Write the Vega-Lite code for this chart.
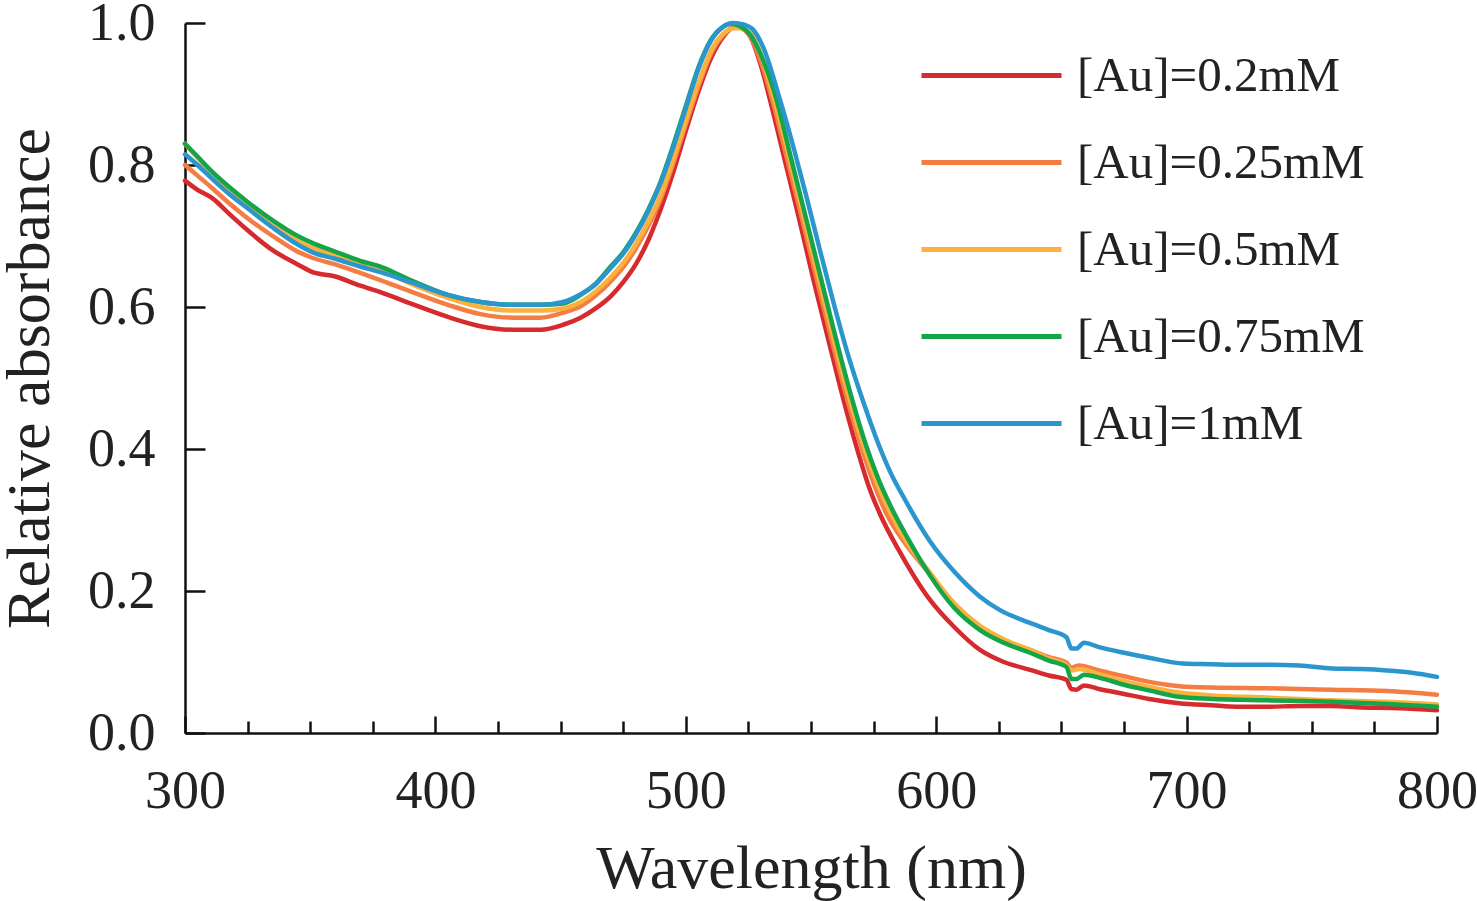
{
 "$schema": "https://vega.github.io/schema/vega-lite/v6.json",
 "width": 1252,
 "height": 710,
 "autosize": {"type": "none"},
 "padding": {"left": 185, "top": 23, "right": 40, "bottom": 168},
 "config": {
  "view": {"stroke": null},
  "font": "Liberation Serif",
  "axis": {"grid": false, "domainColor": "#111", "domainWidth": 2.5, "tickColor": "#111", "tickWidth": 2.5, "labelColor": "#222", "titleColor": "#222", "labelFont": "Liberation Serif", "titleFont": "Liberation Serif", "titleFontWeight": "normal"}
 },
 "datasets": {
  "spectra": [
   {"s":"[Au]=0.2mM","w":300,"a":0.778},{"s":"[Au]=0.2mM","w":305,"a":0.765},{"s":"[Au]=0.2mM","w":311,"a":0.753},{"s":"[Au]=0.2mM","w":318,"a":0.73},{"s":"[Au]=0.2mM","w":325,"a":0.708},{"s":"[Au]=0.2mM","w":335,"a":0.68},{"s":"[Au]=0.2mM","w":345,"a":0.66},{"s":"[Au]=0.2mM","w":351,"a":0.649},{"s":"[Au]=0.2mM","w":360,"a":0.643},{"s":"[Au]=0.2mM","w":370,"a":0.63},{"s":"[Au]=0.2mM","w":378,"a":0.621},{"s":"[Au]=0.2mM","w":390,"a":0.605},{"s":"[Au]=0.2mM","w":405,"a":0.586},{"s":"[Au]=0.2mM","w":418,"a":0.573},{"s":"[Au]=0.2mM","w":431,"a":0.568},{"s":"[Au]=0.2mM","w":442,"a":0.568},{"s":"[Au]=0.2mM","w":451,"a":0.575},{"s":"[Au]=0.2mM","w":458,"a":0.585},{"s":"[Au]=0.2mM","w":464,"a":0.598},{"s":"[Au]=0.2mM","w":470,"a":0.615},{"s":"[Au]=0.2mM","w":475,"a":0.635},{"s":"[Au]=0.2mM","w":480,"a":0.66},{"s":"[Au]=0.2mM","w":485,"a":0.694},{"s":"[Au]=0.2mM","w":490,"a":0.738},{"s":"[Au]=0.2mM","w":495,"a":0.79},{"s":"[Au]=0.2mM","w":500,"a":0.848},{"s":"[Au]=0.2mM","w":505,"a":0.903},{"s":"[Au]=0.2mM","w":510,"a":0.95},{"s":"[Au]=0.2mM","w":515,"a":0.981},{"s":"[Au]=0.2mM","w":520,"a":0.995},{"s":"[Au]=0.2mM","w":525,"a":0.985},{"s":"[Au]=0.2mM","w":530,"a":0.94},{"s":"[Au]=0.2mM","w":533.6,"a":0.892},{"s":"[Au]=0.2mM","w":540,"a":0.8},{"s":"[Au]=0.2mM","w":545,"a":0.728},{"s":"[Au]=0.2mM","w":551,"a":0.638},{"s":"[Au]=0.2mM","w":557,"a":0.553},{"s":"[Au]=0.2mM","w":563,"a":0.469},{"s":"[Au]=0.2mM","w":568,"a":0.405},{"s":"[Au]=0.2mM","w":573,"a":0.348},{"s":"[Au]=0.2mM","w":578,"a":0.305},{"s":"[Au]=0.2mM","w":585,"a":0.258},{"s":"[Au]=0.2mM","w":597,"a":0.19},{"s":"[Au]=0.2mM","w":607,"a":0.15},{"s":"[Au]=0.2mM","w":617.5,"a":0.117},{"s":"[Au]=0.2mM","w":627,"a":0.1},{"s":"[Au]=0.2mM","w":637.5,"a":0.089},{"s":"[Au]=0.2mM","w":645,"a":0.081},{"s":"[Au]=0.2mM","w":652,"a":0.075},{"s":"[Au]=0.2mM","w":654,"a":0.062},{"s":"[Au]=0.2mM","w":656,"a":0.061},{"s":"[Au]=0.2mM","w":659,"a":0.067},{"s":"[Au]=0.2mM","w":665,"a":0.062},{"s":"[Au]=0.2mM","w":675,"a":0.055},{"s":"[Au]=0.2mM","w":685,"a":0.048},{"s":"[Au]=0.2mM","w":697,"a":0.042},{"s":"[Au]=0.2mM","w":710,"a":0.039},{"s":"[Au]=0.2mM","w":720,"a":0.037},{"s":"[Au]=0.2mM","w":732,"a":0.037},{"s":"[Au]=0.2mM","w":745,"a":0.038},{"s":"[Au]=0.2mM","w":758,"a":0.038},{"s":"[Au]=0.2mM","w":770,"a":0.036},{"s":"[Au]=0.2mM","w":785,"a":0.035},{"s":"[Au]=0.2mM","w":800,"a":0.032},

   {"s":"[Au]=0.25mM","w":300,"a":0.8},{"s":"[Au]=0.25mM","w":305,"a":0.785},{"s":"[Au]=0.25mM","w":311,"a":0.767},{"s":"[Au]=0.25mM","w":318,"a":0.745},{"s":"[Au]=0.25mM","w":325,"a":0.725},{"s":"[Au]=0.25mM","w":335,"a":0.7},{"s":"[Au]=0.25mM","w":345,"a":0.678},{"s":"[Au]=0.25mM","w":351,"a":0.669},{"s":"[Au]=0.25mM","w":360,"a":0.66},{"s":"[Au]=0.25mM","w":370,"a":0.648},{"s":"[Au]=0.25mM","w":378,"a":0.638},{"s":"[Au]=0.25mM","w":390,"a":0.622},{"s":"[Au]=0.25mM","w":405,"a":0.603},{"s":"[Au]=0.25mM","w":418,"a":0.59},{"s":"[Au]=0.25mM","w":431,"a":0.585},{"s":"[Au]=0.25mM","w":442,"a":0.585},{"s":"[Au]=0.25mM","w":451,"a":0.592},{"s":"[Au]=0.25mM","w":458,"a":0.601},{"s":"[Au]=0.25mM","w":464,"a":0.616},{"s":"[Au]=0.25mM","w":470,"a":0.636},{"s":"[Au]=0.25mM","w":475,"a":0.656},{"s":"[Au]=0.25mM","w":480,"a":0.682},{"s":"[Au]=0.25mM","w":485,"a":0.714},{"s":"[Au]=0.25mM","w":490,"a":0.752},{"s":"[Au]=0.25mM","w":495,"a":0.802},{"s":"[Au]=0.25mM","w":500,"a":0.857},{"s":"[Au]=0.25mM","w":505,"a":0.91},{"s":"[Au]=0.25mM","w":510,"a":0.956},{"s":"[Au]=0.25mM","w":515,"a":0.983},{"s":"[Au]=0.25mM","w":520,"a":0.995},{"s":"[Au]=0.25mM","w":525,"a":0.985},{"s":"[Au]=0.25mM","w":530,"a":0.945},{"s":"[Au]=0.25mM","w":534.5,"a":0.892},{"s":"[Au]=0.25mM","w":540,"a":0.815},{"s":"[Au]=0.25mM","w":546,"a":0.73},{"s":"[Au]=0.25mM","w":552,"a":0.643},{"s":"[Au]=0.25mM","w":558,"a":0.557},{"s":"[Au]=0.25mM","w":564.5,"a":0.469},{"s":"[Au]=0.25mM","w":570,"a":0.404},{"s":"[Au]=0.25mM","w":575,"a":0.352},{"s":"[Au]=0.25mM","w":580,"a":0.31},{"s":"[Au]=0.25mM","w":587,"a":0.27},{"s":"[Au]=0.25mM","w":597.5,"a":0.224},{"s":"[Au]=0.25mM","w":607,"a":0.183},{"s":"[Au]=0.25mM","w":617.5,"a":0.15},{"s":"[Au]=0.25mM","w":627,"a":0.13},{"s":"[Au]=0.25mM","w":637.5,"a":0.117},{"s":"[Au]=0.25mM","w":645,"a":0.107},{"s":"[Au]=0.25mM","w":652,"a":0.099},{"s":"[Au]=0.25mM","w":654,"a":0.092},{"s":"[Au]=0.25mM","w":657,"a":0.095},{"s":"[Au]=0.25mM","w":665,"a":0.088},{"s":"[Au]=0.25mM","w":675,"a":0.08},{"s":"[Au]=0.25mM","w":685,"a":0.072},{"s":"[Au]=0.25mM","w":697,"a":0.066},{"s":"[Au]=0.25mM","w":710,"a":0.064},{"s":"[Au]=0.25mM","w":732,"a":0.063},{"s":"[Au]=0.25mM","w":758,"a":0.061},{"s":"[Au]=0.25mM","w":780,"a":0.059},{"s":"[Au]=0.25mM","w":800,"a":0.054},

   {"s":"[Au]=0.5mM","w":300,"a":0.83},{"s":"[Au]=0.5mM","w":305,"a":0.81},{"s":"[Au]=0.5mM","w":311,"a":0.785},{"s":"[Au]=0.5mM","w":318,"a":0.762},{"s":"[Au]=0.5mM","w":325,"a":0.742},{"s":"[Au]=0.5mM","w":335,"a":0.715},{"s":"[Au]=0.5mM","w":345,"a":0.693},{"s":"[Au]=0.5mM","w":351,"a":0.683},{"s":"[Au]=0.5mM","w":360,"a":0.673},{"s":"[Au]=0.5mM","w":370,"a":0.66},{"s":"[Au]=0.5mM","w":378,"a":0.652},{"s":"[Au]=0.5mM","w":390,"a":0.633},{"s":"[Au]=0.5mM","w":405,"a":0.613},{"s":"[Au]=0.5mM","w":418,"a":0.6},{"s":"[Au]=0.5mM","w":431,"a":0.595},{"s":"[Au]=0.5mM","w":442,"a":0.595},{"s":"[Au]=0.5mM","w":451,"a":0.598},{"s":"[Au]=0.5mM","w":458,"a":0.607},{"s":"[Au]=0.5mM","w":464,"a":0.622},{"s":"[Au]=0.5mM","w":470,"a":0.642},{"s":"[Au]=0.5mM","w":475,"a":0.662},{"s":"[Au]=0.5mM","w":480,"a":0.688},{"s":"[Au]=0.5mM","w":485,"a":0.72},{"s":"[Au]=0.5mM","w":490,"a":0.758},{"s":"[Au]=0.5mM","w":495,"a":0.808},{"s":"[Au]=0.5mM","w":500,"a":0.862},{"s":"[Au]=0.5mM","w":505,"a":0.915},{"s":"[Au]=0.5mM","w":510,"a":0.96},{"s":"[Au]=0.5mM","w":515,"a":0.985},{"s":"[Au]=0.5mM","w":520,"a":0.993},{"s":"[Au]=0.5mM","w":526,"a":0.985},{"s":"[Au]=0.5mM","w":530,"a":0.955},{"s":"[Au]=0.5mM","w":535.5,"a":0.89},{"s":"[Au]=0.5mM","w":541,"a":0.815},{"s":"[Au]=0.5mM","w":547,"a":0.728},{"s":"[Au]=0.5mM","w":553,"a":0.642},{"s":"[Au]=0.5mM","w":559,"a":0.556},{"s":"[Au]=0.5mM","w":565.5,"a":0.469},{"s":"[Au]=0.5mM","w":571,"a":0.404},{"s":"[Au]=0.5mM","w":576,"a":0.355},{"s":"[Au]=0.5mM","w":581,"a":0.315},{"s":"[Au]=0.5mM","w":588,"a":0.27},{"s":"[Au]=0.5mM","w":597.5,"a":0.226},{"s":"[Au]=0.5mM","w":607,"a":0.183},{"s":"[Au]=0.5mM","w":617.5,"a":0.151},{"s":"[Au]=0.5mM","w":627,"a":0.132},{"s":"[Au]=0.5mM","w":637.5,"a":0.117},{"s":"[Au]=0.5mM","w":645,"a":0.105},{"s":"[Au]=0.5mM","w":652,"a":0.096},{"s":"[Au]=0.5mM","w":654,"a":0.088},{"s":"[Au]=0.5mM","w":657,"a":0.09},{"s":"[Au]=0.5mM","w":665,"a":0.083},{"s":"[Au]=0.5mM","w":675,"a":0.073},{"s":"[Au]=0.5mM","w":685,"a":0.065},{"s":"[Au]=0.5mM","w":697,"a":0.057},{"s":"[Au]=0.5mM","w":710,"a":0.053},{"s":"[Au]=0.5mM","w":732,"a":0.05},{"s":"[Au]=0.5mM","w":758,"a":0.046},{"s":"[Au]=0.5mM","w":780,"a":0.044},{"s":"[Au]=0.5mM","w":800,"a":0.04},

   {"s":"[Au]=0.75mM","w":300,"a":0.83},{"s":"[Au]=0.75mM","w":305,"a":0.812},{"s":"[Au]=0.75mM","w":311,"a":0.79},{"s":"[Au]=0.75mM","w":318,"a":0.768},{"s":"[Au]=0.75mM","w":325,"a":0.748},{"s":"[Au]=0.75mM","w":335,"a":0.722},{"s":"[Au]=0.75mM","w":345,"a":0.7},{"s":"[Au]=0.75mM","w":351,"a":0.69},{"s":"[Au]=0.75mM","w":360,"a":0.678},{"s":"[Au]=0.75mM","w":370,"a":0.665},{"s":"[Au]=0.75mM","w":378,"a":0.657},{"s":"[Au]=0.75mM","w":390,"a":0.638},{"s":"[Au]=0.75mM","w":405,"a":0.617},{"s":"[Au]=0.75mM","w":418,"a":0.607},{"s":"[Au]=0.75mM","w":431,"a":0.603},{"s":"[Au]=0.75mM","w":442,"a":0.603},{"s":"[Au]=0.75mM","w":451,"a":0.605},{"s":"[Au]=0.75mM","w":458,"a":0.617},{"s":"[Au]=0.75mM","w":464,"a":0.633},{"s":"[Au]=0.75mM","w":470,"a":0.657},{"s":"[Au]=0.75mM","w":475,"a":0.677},{"s":"[Au]=0.75mM","w":480,"a":0.704},{"s":"[Au]=0.75mM","w":485,"a":0.737},{"s":"[Au]=0.75mM","w":490,"a":0.777},{"s":"[Au]=0.75mM","w":495,"a":0.828},{"s":"[Au]=0.75mM","w":500,"a":0.883},{"s":"[Au]=0.75mM","w":505,"a":0.937},{"s":"[Au]=0.75mM","w":510,"a":0.976},{"s":"[Au]=0.75mM","w":515,"a":0.995},{"s":"[Au]=0.75mM","w":518,"a":0.999},{"s":"[Au]=0.75mM","w":522,"a":0.995},{"s":"[Au]=0.75mM","w":526,"a":0.982},{"s":"[Au]=0.75mM","w":530,"a":0.955},{"s":"[Au]=0.75mM","w":536,"a":0.895},{"s":"[Au]=0.75mM","w":542,"a":0.81},{"s":"[Au]=0.75mM","w":548,"a":0.725},{"s":"[Au]=0.75mM","w":554,"a":0.64},{"s":"[Au]=0.75mM","w":560,"a":0.555},{"s":"[Au]=0.75mM","w":566.5,"a":0.469},{"s":"[Au]=0.75mM","w":572,"a":0.405},{"s":"[Au]=0.75mM","w":577,"a":0.357},{"s":"[Au]=0.75mM","w":582,"a":0.318},{"s":"[Au]=0.75mM","w":589,"a":0.272},{"s":"[Au]=0.75mM","w":597.5,"a":0.222},{"s":"[Au]=0.75mM","w":607,"a":0.177},{"s":"[Au]=0.75mM","w":617.5,"a":0.145},{"s":"[Au]=0.75mM","w":627,"a":0.127},{"s":"[Au]=0.75mM","w":637.5,"a":0.113},{"s":"[Au]=0.75mM","w":645,"a":0.102},{"s":"[Au]=0.75mM","w":652,"a":0.093},{"s":"[Au]=0.75mM","w":654,"a":0.076},{"s":"[Au]=0.75mM","w":656,"a":0.076},{"s":"[Au]=0.75mM","w":659,"a":0.082},{"s":"[Au]=0.75mM","w":665,"a":0.078},{"s":"[Au]=0.75mM","w":675,"a":0.068},{"s":"[Au]=0.75mM","w":685,"a":0.06},{"s":"[Au]=0.75mM","w":697,"a":0.051},{"s":"[Au]=0.75mM","w":710,"a":0.048},{"s":"[Au]=0.75mM","w":732,"a":0.046},{"s":"[Au]=0.75mM","w":758,"a":0.044},{"s":"[Au]=0.75mM","w":780,"a":0.041},{"s":"[Au]=0.75mM","w":800,"a":0.037},

   {"s":"[Au]=1mM","w":300,"a":0.815},{"s":"[Au]=1mM","w":305,"a":0.8},{"s":"[Au]=1mM","w":311,"a":0.78},{"s":"[Au]=1mM","w":318,"a":0.758},{"s":"[Au]=1mM","w":325,"a":0.739},{"s":"[Au]=1mM","w":335,"a":0.712},{"s":"[Au]=1mM","w":345,"a":0.688},{"s":"[Au]=1mM","w":351,"a":0.677},{"s":"[Au]=1mM","w":360,"a":0.668},{"s":"[Au]=1mM","w":370,"a":0.657},{"s":"[Au]=1mM","w":378,"a":0.649},{"s":"[Au]=1mM","w":390,"a":0.635},{"s":"[Au]=1mM","w":405,"a":0.617},{"s":"[Au]=1mM","w":418,"a":0.607},{"s":"[Au]=1mM","w":431,"a":0.603},{"s":"[Au]=1mM","w":442,"a":0.603},{"s":"[Au]=1mM","w":451,"a":0.607},{"s":"[Au]=1mM","w":458,"a":0.618},{"s":"[Au]=1mM","w":464,"a":0.632},{"s":"[Au]=1mM","w":470,"a":0.655},{"s":"[Au]=1mM","w":475,"a":0.675},{"s":"[Au]=1mM","w":480,"a":0.702},{"s":"[Au]=1mM","w":485,"a":0.735},{"s":"[Au]=1mM","w":490,"a":0.775},{"s":"[Au]=1mM","w":495,"a":0.825},{"s":"[Au]=1mM","w":500,"a":0.88},{"s":"[Au]=1mM","w":505,"a":0.935},{"s":"[Au]=1mM","w":510,"a":0.975},{"s":"[Au]=1mM","w":515,"a":0.995},{"s":"[Au]=1mM","w":519,"a":1.0},{"s":"[Au]=1mM","w":523,"a":0.998},{"s":"[Au]=1mM","w":527,"a":0.99},{"s":"[Au]=1mM","w":531,"a":0.965},{"s":"[Au]=1mM","w":537.6,"a":0.892},{"s":"[Au]=1mM","w":543,"a":0.825},{"s":"[Au]=1mM","w":548,"a":0.758},{"s":"[Au]=1mM","w":553,"a":0.688},{"s":"[Au]=1mM","w":559,"a":0.606},{"s":"[Au]=1mM","w":565,"a":0.53},{"s":"[Au]=1mM","w":572,"a":0.455},{"s":"[Au]=1mM","w":577.6,"a":0.401},{"s":"[Au]=1mM","w":582,"a":0.365},{"s":"[Au]=1mM","w":587,"a":0.332},{"s":"[Au]=1mM","w":597.5,"a":0.27},{"s":"[Au]=1mM","w":607,"a":0.228},{"s":"[Au]=1mM","w":617.5,"a":0.192},{"s":"[Au]=1mM","w":625.5,"a":0.173},{"s":"[Au]=1mM","w":637.5,"a":0.155},{"s":"[Au]=1mM","w":645,"a":0.145},{"s":"[Au]=1mM","w":652,"a":0.135},{"s":"[Au]=1mM","w":654,"a":0.119},{"s":"[Au]=1mM","w":656,"a":0.119},{"s":"[Au]=1mM","w":659,"a":0.127},{"s":"[Au]=1mM","w":665,"a":0.121},{"s":"[Au]=1mM","w":675,"a":0.113},{"s":"[Au]=1mM","w":685,"a":0.106},{"s":"[Au]=1mM","w":698.6,"a":0.098},{"s":"[Au]=1mM","w":710,"a":0.097},{"s":"[Au]=1mM","w":720,"a":0.096},{"s":"[Au]=1mM","w":732,"a":0.096},{"s":"[Au]=1mM","w":745,"a":0.095},{"s":"[Au]=1mM","w":758,"a":0.091},{"s":"[Au]=1mM","w":770,"a":0.09},{"s":"[Au]=1mM","w":780,"a":0.088},{"s":"[Au]=1mM","w":790,"a":0.085},{"s":"[Au]=1mM","w":800,"a":0.079}
  ]
 },
 "data": {"name": "spectra"},
 "mark": {"type": "line", "strokeWidth": 4.5, "interpolate": "monotone", "strokeCap": "round"},
 "encoding": {
  "x": {
   "field": "w", "type": "quantitative",
   "scale": {"domain": [300, 800], "nice": false, "zero": false},
   "axis": {
    "title": "Wavelength (nm)",
    "values": [300,325,350,375,400,425,450,475,500,525,550,575,600,625,650,675,700,725,750,775,800],
    "labelExpr": "datum.value % 100 === 0 ? datum.label : ''",
    "tickSize": {"condition": {"test": "datum.value % 100 === 0", "value": -17}, "value": -12},
    "labelPadding": 48,
    "labelFontSize": 54,
    "labelFlush": false,
    "labelOverlap": false,
    "titleFontSize": 62,
    "titlePadding": 15
   }
  },
  "y": {
   "field": "a", "type": "quantitative",
   "scale": {"domain": [0, 1], "nice": false},
   "axis": {
    "title": "Relative absorbance",
    "values": [0, 0.2, 0.4, 0.6, 0.8, 1.0],
    "format": ".1f",
    "tickSize": -20,
    "labelPadding": 50,
    "labelFontSize": 54,
    "labelFlush": false,
    "labelOverlap": false,
    "titleFontSize": 62,
    "titlePadding": 26
   }
  },
  "color": {
   "field": "s", "type": "nominal",
   "scale": {"domain": ["[Au]=0.2mM", "[Au]=0.25mM", "[Au]=0.5mM", "[Au]=0.75mM", "[Au]=1mM"], "range": ["#d62a2e", "#f47d44", "#fbb13c", "#14a44a", "#2b96cd"]},
   "legend": {
    "title": null, "orient": "none", "legendX": 782, "legendY": 28,
    "symbolType": "M-7,0H7", "symbolSize": 400, "symbolStrokeWidth": 5,
    "labelFontSize": 49, "labelFont": "Liberation Serif", "labelColor": "#222", "labelLimit": 600,
    "rowPadding": 37, "labelOffset": 61, "padding": 0, "symbolLimit": 0
   }
  }
 }
}
